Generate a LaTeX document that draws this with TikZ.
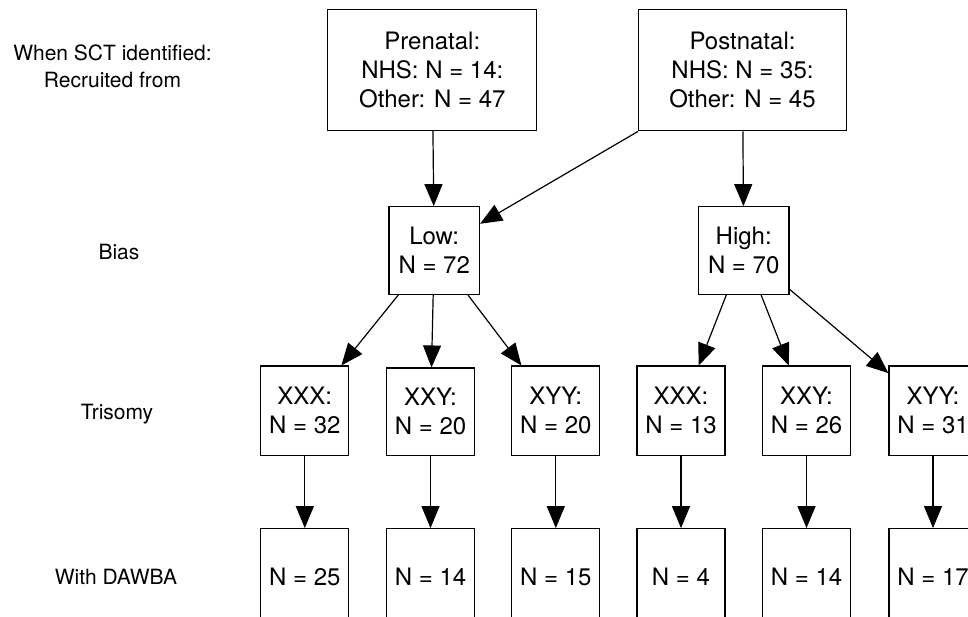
\documentclass[tikz,border=0pt]{standalone}
\usepackage{fontspec}
\setmainfont{TeX Gyre Heros}
\usetikzlibrary{arrows.meta}
\begin{document}
\begin{tikzpicture}[x=1pt,y=-1pt,
  box/.style={draw, line width=1.2pt, align=center, inner sep=0pt,
    font=\fontsize{24}{29}\selectfont},
  topbox/.style={box, minimum width=209pt, minimum height=121pt},
  midbox/.style={box, minimum width=90.5pt, minimum height=87.6pt},
  tribox/.style={box, minimum width=88pt, minimum height=89.7pt},
  endbox/.style={box, minimum width=88pt, minimum height=96pt},
  lbl/.style={align=center, inner sep=0pt, font=\fontsize{21}{27}\selectfont},
  arr/.style={line width=1.2pt, -{Triangle[width=18pt,length=22pt]}}]
\useasboundingbox (0,0) rectangle (968,617);
\clip (0,0) rectangle (968,617);

% row labels
\node[lbl] (l1) at (112.5,66.5) {When SCT identified:\\Recruited from};
\node[lbl] (l2) at (119,252.3) {Bias};
\node[lbl] (l3) at (117,414.3) {Trisomy};
\node[lbl] (l4) at (116,576.7) {With DAWBA};

% top row
\node[topbox] (pre) at (432.3,69.7) {Prenatal:\\NHS: N = 14:\\Other: N = 47};
\node[topbox, minimum width=208.4pt] (post) at (742.5,70.3) {Postnatal:\\NHS: N = 35:\\Other: N = 45};

% bias row
\node[midbox] (low) at (434.2,250.5) {Low:\\N = 72};
\node[midbox] (high) at (743.7,250.5) {High:\\N = 70};

% trisomy row
\node[tribox] (t1) at (304.8,410.9) {XXX:\\N = 32};
\node[tribox, minimum height=87.7pt] (t2) at (430.5,411.9) {XXY:\\N = 20};
\node[tribox] (t3) at (555.8,410.9) {XYY:\\N = 20};
\node[tribox] (t4) at (681,410.9) {XXX:\\N = 13};
\node[tribox] (t5) at (806.5,410.9) {XXY:\\N = 26};
\node[tribox] (t6) at (933,410.9) {XYY:\\N = 31};

% DAWBA row
\node[endbox] (d1) at (304.8,576.7) {N = 25};
\node[endbox] (d2) at (430.5,576.7) {N = 14};
\node[endbox] (d3) at (555.8,576.7) {N = 15};
\node[endbox] (d4) at (681,576.7) {N = 4};
\node[endbox] (d5) at (806.5,576.7) {N = 14};
\node[endbox] (d6) at (933,576.7) {N = 17};

% connectors
\draw[arr] (pre) -- (low);
\draw[arr] (post) -- (low);
\draw[arr] (post) -- (high);
\draw[arr] (low) -- (t1);
\draw[arr] (low) -- (t2);
\draw[arr] (low) -- (t3);
\draw[arr] (high) -- (t4);
\draw[arr] (high) -- (t5);
\draw[arr] (high) -- (t6);
\draw[arr] (t1) -- (d1);
\draw[arr] (t2) -- (d2);
\draw[arr] (t3) -- (d3);
\draw[arr] (t4) -- (d4);
\draw[arr] (t5) -- (d5);
\draw[arr] (t6) -- (d6);
\end{tikzpicture}
\end{document}
